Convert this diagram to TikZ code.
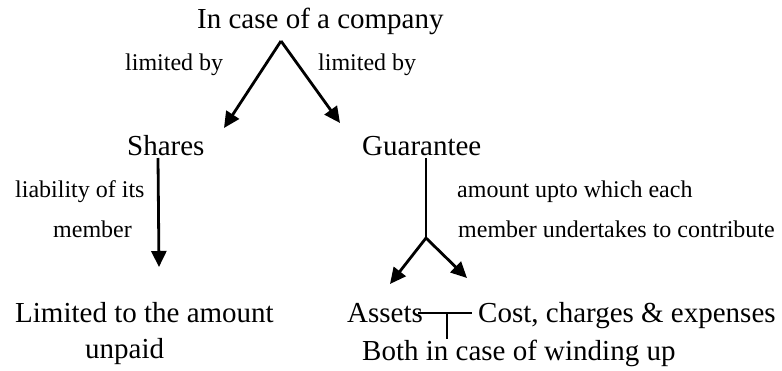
\documentclass[tikz,border=0pt]{standalone}
\usepackage{fontspec}
\setmainfont{Liberation Serif}
\usetikzlibrary{arrows.meta}
\begin{document}
\begin{tikzpicture}[x=1pt,y=-1pt,
  big/.style={inner sep=0pt,anchor=base west,font=\fontsize{29}{33}\selectfont},
  title/.style={inner sep=0pt,anchor=base west,font=\fontsize{29}{33}\selectfont},
  small/.style={inner sep=0pt,anchor=base west,font=\fontsize{24}{28}\selectfont},
  conn/.style={line width=2.8pt},
  arr/.style={conn,-{Triangle[length=16pt,width=15pt]}}]
\useasboundingbox (0,0) rectangle (782,370);
\node[title] (comp) at (197,28) {In case of a company};
\node[small] (lb1) at (125,70) {limited by};
\node[small] (lb2) at (318,70) {limited by};
\node[big] (shares) at (127,155) {Shares};
\node[big] (guar) at (362,155) {Guarantee};
\node[small] (liab1) at (15,197) {liability of its};
\node[small] (liab2) at (53,237) {member};
\node[small] (amt1) at (457,197) {amount upto which each};
\node[small] (amt2) at (458,237) {member undertakes to contribute};
\node[big] (lim1) at (15,322) {Limited to the amount};
\node[big] (lim2) at (85,358) {unpaid};
\node[big] (assets) at (347,322) {Assets};
\node[big] (cost) at (478,322) {Cost, charges \& expenses};
\node[big] (both) at (362,360) {Both in case of winding up};
\coordinate (apex) at (281,41);
\coordinate (tipS) at (224,128);
\coordinate (tipG) at (340,123);
\coordinate (sTop) at (158,158);
\coordinate (sTip) at (159,267);
\coordinate (gTop) at (426,158);
\coordinate (junc) at (426,238);
\coordinate (tipA) at (390,284);
\coordinate (tipC) at (467,278);
\coordinate (hL) at (418,313);
\coordinate (hR) at (472,313);
\coordinate (hM) at (447,313);
\coordinate (hB) at (447,339);
\draw[arr] (apex) -- (tipS);
\draw[arr] (apex) -- (tipG);
\draw[arr] (sTop) -- (sTip);
\draw[conn] (gTop) -- (junc);
\draw[arr] (junc) -- (tipA);
\draw[arr] (junc) -- (tipC);
\draw[conn] (hL) -- (hR);
\draw[conn] (hM) -- (hB);
\end{tikzpicture}
\end{document}
